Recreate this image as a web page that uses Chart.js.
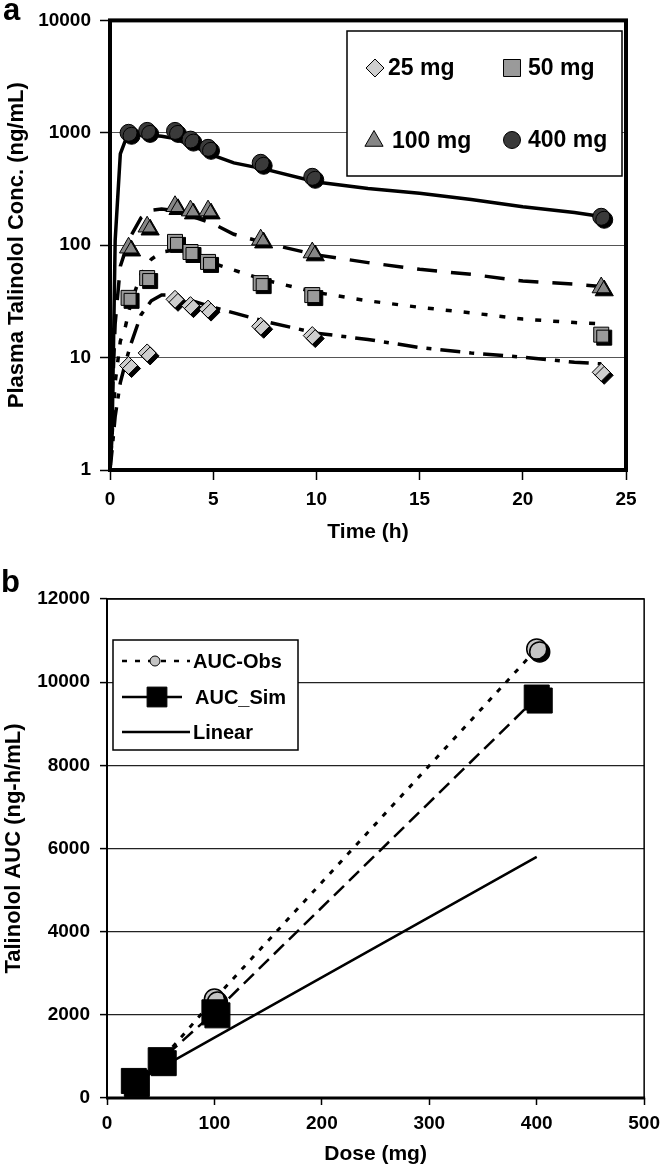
<!DOCTYPE html>
<html>
<head>
<meta charset="utf-8">
<title>Talinolol plasma concentration and AUC</title>
<script src="https://cdn.jsdelivr.net/npm/chart.js@4.4.1/dist/chart.umd.min.js"></script>
<style>
  html, body { margin: 0; padding: 0; background: #fff; }
  #page { position: relative; width: 667px; height: 1167px; overflow: hidden; }
  #chartA { position: absolute; left: 0; top: 0; }
  #chartB { position: absolute; left: 0; top: 560px; }
</style>
</head>
<body>
<div id="page">
  <canvas id="chartA" width="667" height="550"></canvas>
  <canvas id="chartB" width="667" height="607"></canvas>
</div>
<script>
// ---- panel a: plasma concentration vs time (log scale) ----
const doseLabels = ['25 mg', '50 mg', '100 mg', '400 mg'];

// observed means (ng/mL)
const obsTimes = [0.9, 1.8, 3.15, 3.9, 4.75, 7.3, 9.8, 23.8];
const obs25 = [8.5, 11, 33, 29, 27, 19, 15.7, 7.4];
const obs50 = [34, 51, 107, 87, 71, 46, 36, 16];
const obs100 = [95, 146, 222, 203, 203, 112, 86, 42];
const obs400 = [1000, 1040, 1040, 870, 735, 541, 406, 179];

// simulated profiles (ng/mL)
const simTimes = [0, 0.1, 0.25, 0.5, 0.75, 1, 1.5, 2, 2.5, 3, 4, 5, 6, 7.5, 10, 12.5, 15, 17.5, 20, 22.5, 23.8];
const sim25 = [1, 1.5, 3, 6, 9, 13, 24, 32, 36, 36, 32, 28, 25, 21, 16.5, 14.5, 12.3, 11, 10.1, 9.1, 8.8];
const sim50 = [1, 2, 6, 14, 19, 30, 55, 75, 87, 90, 82, 69, 60, 49, 38, 32, 28, 25, 22, 20.5, 20];
const sim100 = [1, 4, 20, 65, 90, 120, 175, 205, 210, 205, 180, 155, 125, 105, 82, 70, 61, 55, 48, 45, 43];
const sim400 = [1, 2, 110, 650, 860, 920, 960, 950, 930, 900, 770, 630, 540, 475, 365, 320, 290, 255, 220, 195, 180];

const timeTicks = [0, 5, 10, 15, 20, 25];
const concTicks = [1, 10, 100, 1000, 10000];

// ---- panel b: AUC vs dose ----
const aucLabels = ['AUC-Obs', 'AUC_Sim', 'Linear'];
const doses = [25, 50, 100, 400];
const aucObs = [400, 900, 2380, 10800];
const aucSim = [410, 910, 2060, 9630];
const aucLinear = [362, 725, 1450, 5800];

const doseTicks = [0, 100, 200, 300, 400, 500];
const aucTicks = [0, 2000, 4000, 6000, 8000, 10000, 12000];

const FONT = '"Liberation Sans", Arial, sans-serif';
Chart.defaults.font.family = FONT;
Chart.defaults.font.weight = 'bold';
Chart.defaults.color = '#000';

const pts = (xs, ys) => xs.map((x, i) => ({ x: x, y: ys[i] }));

// black drop shadow under the markers, like the original figure
const markerShadow = {
    id: 'markerShadow',
    beforeDatasetDraw(chart, args) {
        if (!chart.data.datasets[args.index].shadow) return;
        const ctx = chart.ctx;
        ctx.save();
        ctx.shadowColor = '#000';
        ctx.shadowOffsetX = 3;
        ctx.shadowOffsetY = 3;
        ctx.shadowBlur = 0;
    },
    afterDatasetDraw(chart, args) {
        if (chart.data.datasets[args.index].shadow) chart.ctx.restore();
    }
};

function drawMarker(ctx, style, radius, fill, x, y) {
    ctx.save();
    ctx.fillStyle = fill;
    ctx.strokeStyle = '#000';
    ctx.lineWidth = 1;
    Chart.helpers.drawPoint(ctx, { pointStyle: style, radius: radius, rotation: 0, borderWidth: 1 }, x, y);
    ctx.restore();
}

function panelLetter(letter, x, y) {
    return {
        id: 'letter' + letter,
        afterDraw(chart) {
            const ctx = chart.ctx;
            ctx.save();
            ctx.font = 'bold 31px ' + FONT;
            ctx.fillStyle = '#000';
            ctx.textBaseline = 'alphabetic';
            ctx.fillText(letter, x, y);
            ctx.restore();
        }
    };
}

// ---------- chart a ----------
const markerStyles = [
    { pointStyle: 'rectRot', radius: 9, fill: '#cfcfcf' },
    { pointStyle: 'rect', radius: 10.6, fill: '#9a9a9a' },
    { pointStyle: 'triangle', radius: 10.5, fill: '#868686' },
    { pointStyle: 'circle', radius: 8.5, fill: '#3a3a3a' }
];
const obsSeries = [obs25, obs50, obs100, obs400];
const simSeries = [sim25, sim50, sim100, sim400];
const simDash = [[20, 9, 5, 9], [6, 12], [20, 14], []];

const datasetsA = [];
obsSeries.forEach((ys, i) => {
    const m = markerStyles[i];
    datasetsA.push({
        label: doseLabels[i],
        data: pts(obsTimes, ys),
        showLine: false,
        pointStyle: m.pointStyle,
        pointRadius: m.radius,
        backgroundColor: m.fill,
        borderColor: '#000',
        borderWidth: 1,
        shadow: true,
        order: 3 - i
    });
});
simSeries.forEach((ys, i) => {
    datasetsA.push({
        label: doseLabels[i] + ' sim',
        data: pts(simTimes, ys),
        showLine: true,
        pointRadius: 0,
        borderColor: '#000',
        borderWidth: i === 3 ? 3.5 : 3.5,
        borderDash: simDash[i],
        fill: false,
        order: 10 + i
    });
});

const frameA = {
    id: 'frameA',
    afterDatasetsDraw(chart) {
        const { ctx, chartArea: a } = chart;
        ctx.save();
        ctx.strokeStyle = '#000';
        ctx.lineWidth = 4;
        ctx.strokeRect(a.left, a.top, a.right - a.left, a.bottom - a.top);
        ctx.restore();
    }
};

const legendA = {
    id: 'legendA',
    afterDraw(chart) {
        const ctx = chart.ctx;
        ctx.save();
        ctx.fillStyle = '#fff';
        ctx.fillRect(347, 31, 275, 145);
        ctx.strokeStyle = '#000';
        ctx.lineWidth = 1.5;
        ctx.strokeRect(347, 31, 275, 145);
        const slots = [[375, 68, 388], [512, 68, 528], [374, 141, 392], [512, 140, 528]];
        const legendRadius = [9, 12, 10.5, 8.5];
        ctx.font = 'bold 23px ' + FONT;
        ctx.textBaseline = 'middle';
        doseLabels.forEach((lab, i) => {
            const s = slots[i];
            drawMarker(ctx, markerStyles[i].pointStyle, legendRadius[i], markerStyles[i].fill, s[0], s[1]);
            ctx.fillStyle = '#000';
            ctx.fillText(lab, s[2], s[1] + 1);
        });
        ctx.restore();
    }
};

new Chart(document.getElementById('chartA'), {
    type: 'scatter',
    data: { datasets: datasetsA },
    options: {
        responsive: false,
        animation: false,
        devicePixelRatio: 1,
        events: [],
        layout: { padding: { left: 0, top: 20, right: 41, bottom: 5 } },
        plugins: { legend: { display: false }, tooltip: { enabled: false } },
        scales: {
            x: {
                type: 'linear', min: 0, max: 25,
                afterBuildTicks: s => { s.ticks = timeTicks.map(v => ({ value: v })); },
                afterFit: s => { s.height = 75; },
                border: { display: false },
                grid: { drawOnChartArea: false, drawTicks: true, tickLength: 10, tickColor: '#000', tickWidth: 1.5 },
                ticks: { font: { size: 19, weight: 'bold' }, padding: 8, maxRotation: 0, callback: v => String(v) },
                title: { display: true, text: 'Time (h)', font: { size: 21, weight: 'bold' }, padding: 0 }
            },
            y: {
                type: 'logarithmic', min: 1, max: 10000,
                afterBuildTicks: s => { s.ticks = concTicks.map(v => ({ value: v })); },
                afterFit: s => { s.width = 110; },
                border: { display: false },
                grid: { color: '#555', lineWidth: 1, tickLength: 10, tickColor: '#000', tickWidth: 1.5 },
                ticks: { font: { size: 19, weight: 'bold' }, padding: 9, callback: v => String(v) },
                title: { display: true, text: 'Plasma Talinolol Conc. (ng/mL)', font: { size: 22, weight: 'bold' }, padding: { top: 4, bottom: 0 } }
            }
        }
    },
    plugins: [markerShadow, frameA, legendA, panelLetter('a', 3, 20)]
});

// ---------- chart b ----------
const datasetsB = [
    {
        label: aucLabels[1] + ' markers', data: pts(doses, aucSim), showLine: false,
        pointStyle: 'rect', pointRadius: 17.7, backgroundColor: '#000', borderColor: '#000', borderWidth: 1,
        shadow: true, order: 0
    },
    {
        label: aucLabels[0] + ' markers', data: pts(doses, aucObs), showLine: false,
        pointStyle: 'circle', pointRadius: 10, backgroundColor: '#c4c4c4', borderColor: '#000', borderWidth: 1.5,
        shadow: true, order: 1
    },
    {
        label: aucLabels[1], data: pts(doses, aucSim), showLine: true, pointRadius: 0,
        borderColor: '#000', borderWidth: 2.5, borderDash: [14, 7], order: 2
    },
    {
        label: aucLabels[0], data: pts(doses, aucObs), showLine: true, pointRadius: 0,
        borderColor: '#000', borderWidth: 3, borderDash: [5, 8], order: 3
    },
    {
        label: aucLabels[2], data: pts(doses, aucLinear), showLine: true, pointRadius: 0,
        borderColor: '#000', borderWidth: 2.5, order: 4
    }
];

const frameB = {
    id: 'frameB',
    afterDatasetsDraw(chart) {
        const { ctx, chartArea: a } = chart;
        ctx.save();
        ctx.strokeStyle = '#000';
        ctx.lineWidth = 1.5;
        ctx.beginPath();
        ctx.moveTo(a.left, a.top); ctx.lineTo(a.right, a.top); ctx.lineTo(a.right, a.bottom);
        ctx.stroke();
        ctx.lineWidth = 2;
        ctx.beginPath();
        ctx.moveTo(a.left, a.top); ctx.lineTo(a.left, a.bottom);
        ctx.stroke();
        ctx.lineWidth = 3;
        ctx.beginPath();
        ctx.moveTo(a.left - 1, a.bottom); ctx.lineTo(a.right + 1, a.bottom);
        ctx.stroke();
        ctx.restore();
    }
};

const legendB = {
    id: 'legendB',
    afterDraw(chart) {
        const ctx = chart.ctx;
        ctx.save();
        ctx.fillStyle = '#fff';
        ctx.fillRect(113, 80, 185, 110);
        ctx.strokeStyle = '#000';
        ctx.lineWidth = 1.5;
        ctx.strokeRect(113, 80, 185, 110);
        const rows = [101, 137, 172];
        const dashes = [[5, 8], [28, 13], []];
        const ends = [190, 182, 190];
        ctx.font = 'bold 20px ' + FONT;
        ctx.textBaseline = 'middle';
        aucLabels.forEach((lab, i) => {
            const y = rows[i];
            ctx.strokeStyle = '#000';
            ctx.lineWidth = 2.5;
            ctx.setLineDash(dashes[i]);
            ctx.beginPath();
            ctx.moveTo(122, y); ctx.lineTo(ends[i], y);
            ctx.stroke();
            ctx.setLineDash([]);
            if (i === 0) drawMarker(ctx, 'circle', 5, '#c4c4c4', 155, y);
            if (i === 1) drawMarker(ctx, 'rect', 14, '#000', 157, y);
            ctx.fillStyle = '#000';
            ctx.fillText(lab, i === 1 ? 195 : 193, y + 1);
        });
        ctx.restore();
    }
};

new Chart(document.getElementById('chartB'), {
    type: 'scatter',
    data: { datasets: datasetsB },
    options: {
        responsive: false,
        animation: false,
        devicePixelRatio: 1,
        events: [],
        layout: { padding: { left: 0, top: 39, right: 19, bottom: 0 } },
        plugins: { legend: { display: false }, tooltip: { enabled: false } },
        scales: {
            x: {
                type: 'linear', min: 0, max: 500,
                afterBuildTicks: s => { s.ticks = doseTicks.map(v => ({ value: v })); },
                afterFit: s => { s.height = 69; },
                border: { display: false },
                grid: { drawOnChartArea: false, drawTicks: true, tickLength: 7, tickColor: '#000', tickWidth: 1.5 },
                ticks: { font: { size: 19, weight: 'bold' }, padding: 7, maxRotation: 0, callback: v => String(v) },
                title: { display: true, text: 'Dose (mg)', font: { size: 21, weight: 'bold' }, padding: 0 }
            },
            y: {
                type: 'linear', min: 0, max: 12000,
                afterBuildTicks: s => { s.ticks = aucTicks.map(v => ({ value: v })); },
                afterFit: s => { s.width = 107; },
                border: { display: false },
                grid: { color: '#222', lineWidth: 1.2, tickLength: 7, tickColor: '#000', tickWidth: 1.5 },
                ticks: { font: { size: 19, weight: 'bold' }, padding: 10, callback: v => String(v) },
                title: { display: true, text: 'Talinolol AUC (ng-h/mL)', font: { size: 22, weight: 'bold' }, padding: { top: 1, bottom: 0 } }
            }
        }
    },
    plugins: [markerShadow, frameB, legendB, panelLetter('b', 1, 32)]
});
</script>
</body>
</html>
